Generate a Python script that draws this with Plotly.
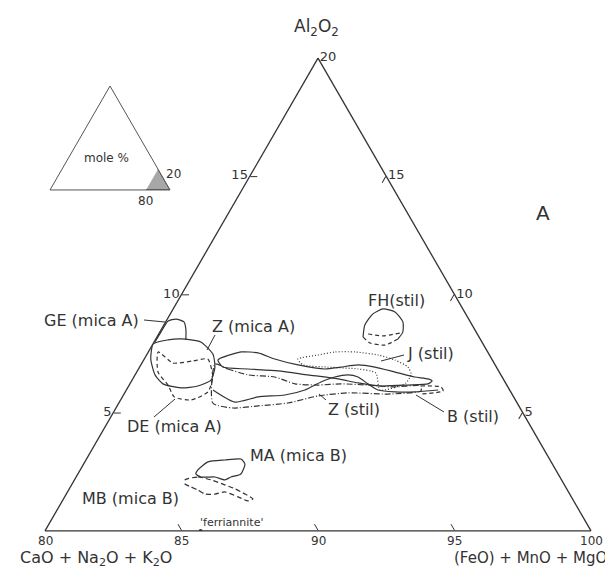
import plotly.graph_objects as go

# Outlines, in mole %: Al2O3 and (FeO)+MnO+MgO.
# CaO+Na2O+K2O is the remainder to 100.
GE_MICA_A_AL = [7.99, 8.41, 8.88, 8.96, 8.84, 8.54, 8.08]
GE_MICA_A_FM = [80.03, 80.04, 80.07, 80.32, 80.67, 80.89, 81.12]

Z_MICA_A_AL = [7.91, 8.08, 8.12, 7.99, 7.48, 6.93, 6.38, 6.13, 6.05, 6.22, 6.60, 7.27]
Z_MICA_A_FM = [80.01, 80.47, 80.92, 81.71, 82.41, 82.76, 82.89, 82.53, 81.96, 81.21, 80.73, 80.24]

DE_MICA_A_AL = [7.57, 7.10, 7.19, 7.27, 6.51, 5.88, 5.54, 5.67, 6.17, 6.72]
DE_MICA_A_FM = [80.36, 81.14, 81.83, 82.33, 82.89, 83.03, 82.58, 81.90, 81.42, 80.78]

B_STIL_AL = [7.23, 7.57, 7.53, 7.27, 7.02, 6.85, 6.93, 7.02, 6.93, 6.72, 6.51, 6.43, 6.34,
             6.22, 6.17, 6.13, 6.26, 6.43, 6.60, 6.77, 6.85, 6.93]
B_STIL_FM = [82.72, 83.40, 84.04, 84.78, 85.76, 86.83, 87.37, 87.96, 88.62, 89.46, 90.29, 90.82, 91.01,
             90.92, 90.21, 89.24, 88.34, 87.52, 86.33, 85.15, 84.01, 83.05]

B_STIL_TIP_AL = [6.13, 6.09, 5.92, 5.79]
B_STIL_TIP_FM = [90.70, 91.46, 91.62, 90.87]

Z_STIL_AL = [5.96, 5.45, 5.67, 5.75, 5.96, 6.30, 6.51, 6.60, 6.51, 6.22, 5.96, 5.88, 5.88, 5.96]
Z_STIL_FM = [83.17, 84.23, 84.97, 85.91, 86.54, 86.96, 87.36, 87.80, 88.21, 88.72, 89.22, 89.88, 90.61, 91.42]

Z_STIL_CORE_AL = [7.06, 6.85, 6.60, 6.51, 6.22, 6.17, 6.22, 6.17, 6.09, 6.13,
                  5.92, 5.79, 5.84, 5.71, 5.41, 5.29, 5.20, 5.41]
Z_STIL_CORE_FM = [82.70, 83.27, 84.14, 85.16, 86.05, 86.91, 87.73, 88.74, 89.70, 90.70,
                  90.81, 89.66, 88.18, 87.15, 86.19, 85.16, 84.29, 83.44]

J_STIL_AL = [7.27, 7.44, 7.57, 7.57, 7.44, 7.23, 6.93, 6.64, 6.26, 5.96, 6.68, 6.85, 6.93, 7.02]
J_STIL_FM = [85.63, 86.28, 86.84, 87.58, 88.48, 89.20, 89.83, 90.09, 90.09, 89.29, 88.78, 88.04, 86.90, 85.94]

FH_STIL_AL = [8.20, 8.71, 9.18, 9.39, 9.26, 8.84, 8.41, 8.12]
FH_STIL_FM = [87.55, 87.36, 87.42, 87.69, 88.19, 88.69, 88.90, 88.87]
FH_STIL_BASE_AL = [8.20, 7.95, 7.86, 8.12]
FH_STIL_BASE_FM = [87.55, 87.93, 88.52, 88.87]
FH_STIL_INNER_AL = [8.33, 8.25, 8.37]
FH_STIL_INNER_FM = [87.67, 88.26, 88.81]

MA_MICA_B_AL = [2.58, 2.92, 3.00, 3.04, 2.83, 2.41, 2.28, 2.16, 2.28, 2.28, 2.41]
MA_MICA_B_FM = [84.31, 84.51, 85.09, 85.66, 85.91, 85.97, 85.67, 85.51, 85.09, 84.57, 84.32]

MB_MICA_B_AL = [2.16, 2.28, 2.16, 1.95, 1.78, 1.56, 1.35, 1.27, 1.44, 1.65, 1.56, 1.56, 1.73, 1.86, 1.99]
MB_MICA_B_FM = [84.05, 84.46, 85.00, 85.61, 86.07, 86.55, 86.94, 86.80, 86.35, 85.76, 85.45, 85.08, 84.73, 84.42, 84.13]

FERRIANNITE_AL = [0.0]
FERRIANNITE_FM = [85.7]

# shaded corner of the key triangle: Al2O3 <= 20, (FeO)+MnO+MgO >= 80
KEY_AL = [0, 0, 20]
KEY_FM = [80, 100, 80]

# tick labels
AL_TICKS = [5, 10, 15]
FM_TICKS = [80, 85, 90, 95, 100]
FM_EDGE_TICKS = [80, 85, 90, 95]

LINE = "#333333"
FONT = "DejaVu Sans"


def paper(px, py):
    # pixel position in the 613x568 figure -> paper coordinates
    return (px - 37) / 546, (524 - py) / 475


def ternary_trace(al, fm, dash, close, subplot="ternary", **kw):
    a = list(al) + ([al[0]] if close else [])
    c = list(fm) + ([fm[0]] if close else [])
    b = [100 - x - y for x, y in zip(a, c)]
    return go.Scatterternary(
        a=a, b=b, c=c, subplot=subplot, mode="lines",
        line=dict(color=LINE, width=1.2, dash=dash, shape="spline", smoothing=0.6),
        showlegend=False, hoverinfo="skip", **kw,
    )


fig = go.Figure()

outlines = [
    (GE_MICA_A_AL, GE_MICA_A_FM, "solid", False),
    (Z_MICA_A_AL, Z_MICA_A_FM, "solid", True),
    (DE_MICA_A_AL, DE_MICA_A_FM, "4px,3px", True),
    (B_STIL_AL, B_STIL_FM, "solid", True),
    (B_STIL_TIP_AL, B_STIL_TIP_FM, "4px,3px", False),
    (Z_STIL_AL, Z_STIL_FM, "solid", False),
    (Z_STIL_CORE_AL, Z_STIL_CORE_FM, "6px,2px,1px,2px", True),
    (J_STIL_AL, J_STIL_FM, "1px,2px", True),
    (FH_STIL_AL, FH_STIL_FM, "solid", False),
    (FH_STIL_BASE_AL, FH_STIL_BASE_FM, "4px,3px", False),
    (FH_STIL_INNER_AL, FH_STIL_INNER_FM, "4px,3px", False),
    (MA_MICA_B_AL, MA_MICA_B_FM, "solid", True),
    (MB_MICA_B_AL, MB_MICA_B_FM, "5px,3px", True),
]
for al, fm, dash, close in outlines:
    fig.add_trace(ternary_trace(al, fm, dash, close))

fig.add_trace(go.Scatterternary(
    a=FERRIANNITE_AL, c=FERRIANNITE_FM,
    b=[100 - x - y for x, y in zip(FERRIANNITE_AL, FERRIANNITE_FM)],
    mode="markers", marker=dict(color=LINE, size=4),
    showlegend=False, hoverinfo="skip",
))

fig.add_trace(go.Scatterternary(
    a=KEY_AL, c=KEY_FM, b=[100 - x - y for x, y in zip(KEY_AL, KEY_FM)],
    subplot="ternary2", mode="lines", fill="toself",
    fillcolor="rgba(60,60,60,0.45)", line=dict(color=LINE, width=1),
    showlegend=False, hoverinfo="skip",
))

axis_style = dict(
    ticks="inside", ticklen=7, tickwidth=1, tickcolor=LINE,
    linecolor=LINE, linewidth=1.3, showgrid=False,
    tickfont=dict(size=13, color="#333"), title=dict(text=""),
)
key_axis = dict(
    showticklabels=False, ticks="", showgrid=False,
    linecolor="#555", linewidth=1, title=dict(text=""),
)

labels = [
    ("GE (mica A)", 133, 312, "right", 16),
    ("Z (mica A)", 202, 318, "left", 16),
    ("DE (mica A)", 117, 418, "left", 16),
    ("FH(stil)", 358, 292, "left", 16),
    ("J (stil)", 397, 345, "left", 16),
    ("Z (stil)", 318, 401, "left", 16),
    ("B (stil)", 437, 408, "left", 16),
    ("MA (mica B)", 240, 447, "left", 16),
    ("MB (mica B)", 72, 490, "left", 16),
    ("'ferriannite'", 190, 514, "left", 11),
    ("A", 526, 205, "left", 20),
    ("Al<sub>2</sub>O<sub>2</sub>", 308, 20, "center", 17),
    ("CaO + Na<sub>2</sub>O + K<sub>2</sub>O", 88, 550, "center", 16),
    ("(FeO) + MnO + MgO", 522, 550, "center", 15),
    ("mole %", 74, 150, "left", 12),
    ("20", 156, 166, "left", 12),
    ("80", 137, 193, "center", 12),
]
annotations = []
for text, px, py, anchor, size in labels:
    x, y = paper(px, py)
    annotations.append(dict(
        text=text, x=x, y=y, xref="paper", yref="paper",
        xanchor=anchor, yanchor="middle", showarrow=False,
        font=dict(size=size, color="#333"),
    ))
# bottom edge labels sit closer to the edge than plotly's own ticklabels
for v in FM_TICKS:
    annotations.append(dict(
        text=str(v), x=(v - 80) / 20, y=paper(0, 533)[1], xref="paper", yref="paper",
        xanchor="center", yanchor="middle", showarrow=False,
        font=dict(size=12, color="#333"),
    ))

leaders = [
    (136, 312, 157, 314),
    (207, 327, 199, 342),
    (146, 409, 167, 391),
    (396, 347, 373, 353),
    (318, 392, 311, 386),
    (436, 404, 408, 387),
]
shapes = []
for x0, y0, x1, y1 in leaders:
    p0, p1 = paper(x0, y0), paper(x1, y1)
    shapes.append(dict(
        type="line", xref="paper", yref="paper",
        x0=p0[0], y0=p0[1], x1=p1[0], y1=p1[1],
        line=dict(color=LINE, width=1),
    ))

fig.update_layout(
    width=613, height=568,
    margin=dict(l=37, r=30, t=49, b=44),
    paper_bgcolor="white",
    font=dict(family=FONT, color="#333"),
    showlegend=False,
    ternary=dict(
        sum=100, bgcolor="white",
        domain=dict(x=[0, 1], y=[0, 1]),
        aaxis=dict(min=0, tickmode="array", tickvals=AL_TICKS, **axis_style),
        baxis=dict(min=0, tickmode="array", tickvals=[100 - v for v in FM_TICKS[1:-1]],
                   showticklabels=False, **axis_style),
        caxis=dict(min=80, tickmode="array", tickvals=FM_EDGE_TICKS,
                   ticktext=[str(100 - v) for v in FM_EDGE_TICKS], **axis_style),
    ),
    ternary2=dict(
        sum=100, bgcolor="white",
        domain=dict(x=[0.0092, 0.229], y=[0.72, 0.939]),
        aaxis=key_axis, baxis=key_axis, caxis=key_axis,
    ),
    annotations=annotations,
    shapes=shapes,
)

fig.write_html("out.html")
